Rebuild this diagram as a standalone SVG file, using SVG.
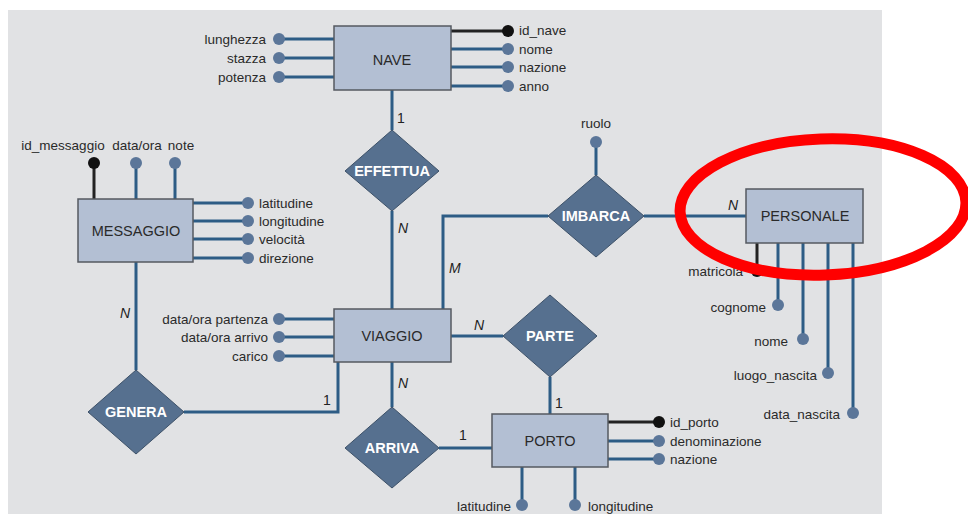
<svg xmlns="http://www.w3.org/2000/svg" width="968" height="514" viewBox="0 0 968 514">
<style>
.ent{fill:#b3bfd3;stroke:#555a60;stroke-width:1.5}
.rel{fill:#56708f;stroke:#3d5168;stroke-width:1}
.ln{stroke:#2d5c85;stroke-width:3;fill:none}
.kl{stroke:#222;stroke-width:3;fill:none}
.at{fill:#5b7699}
.ka{fill:#111}
.et{font-family:"Liberation Sans",Arial,sans-serif;font-size:14.5px;fill:#2a2a2a;text-anchor:middle}
.rt{font-family:"Liberation Sans",Arial,sans-serif;font-size:14.5px;font-weight:bold;fill:#fff;text-anchor:middle}
.lb{font-family:"Liberation Sans",Arial,sans-serif;font-size:13.5px;fill:#2a2a2a}
.r{text-anchor:end}
.m{text-anchor:middle}
.card{font-family:"Liberation Sans",Arial,sans-serif;font-size:14px;fill:#222}
.it{font-style:italic}
</style>
<rect x="8" y="10" width="874" height="504" fill="#e1e2e4"/>
<g id="connectors">
<path class="ln" d="M392 90V130M392 211V309M443 309V216H548M451 336H503M392 362V407M439 448H492M550 377V414M136 262V370M184 412H338V362M644 216H746M596 175V142"/>
</g>
<g id="NAVE">
<path class="ln" d="M279 39H334M279 58H334M279 77H334M451 49H508M451 67H508M451 86H508"/>
<path class="kl" d="M451 31H508"/>
<rect class="ent" x="334" y="26" width="117" height="64"/>
<text class="et" x="392" y="65">NAVE</text>
<circle class="at" cx="279" cy="39" r="6"/><circle class="at" cx="279" cy="58" r="6"/><circle class="at" cx="279" cy="77" r="6"/>
<circle class="ka" cx="508" cy="31" r="6"/><circle class="at" cx="508" cy="49" r="6"/><circle class="at" cx="508" cy="67" r="6"/><circle class="at" cx="508" cy="86" r="6"/>
<text class="lb r" x="266" y="44">lunghezza</text>
<text class="lb r" x="266" y="63">stazza</text>
<text class="lb r" x="266" y="82">potenza</text>
<text class="lb" x="519" y="35">id_nave</text>
<text class="lb" x="519" y="54">nome</text>
<text class="lb" x="519" y="72">nazione</text>
<text class="lb" x="519" y="91">anno</text>
</g>
<g id="MESSAGGIO">
<path class="kl" d="M94 163V199"/>
<path class="ln" d="M136 163V199M175 163V199M193 203H248M193 221H248M193 239H248M193 258H248"/>
<rect class="ent" x="78" y="199" width="115" height="63"/>
<text class="et" x="136" y="236">MESSAGGIO</text>
<circle class="ka" cx="94" cy="163" r="6"/><circle class="at" cx="136" cy="163" r="6"/><circle class="at" cx="175" cy="163" r="6"/>
<circle class="at" cx="248" cy="203" r="6"/><circle class="at" cx="248" cy="221" r="6"/><circle class="at" cx="248" cy="239" r="6"/><circle class="at" cx="248" cy="258" r="6"/>
<text class="lb m" x="63" y="150">id_messaggio</text>
<text class="lb m" x="137" y="150">data/ora</text>
<text class="lb m" x="181" y="150">note</text>
<text class="lb" x="259" y="208">latitudine</text>
<text class="lb" x="259" y="226">longitudine</text>
<text class="lb" x="259" y="244">velocità</text>
<text class="lb" x="259" y="263">direzione</text>
</g>
<g id="VIAGGIO">
<path class="ln" d="M279 319H334M279 337H334M279 356H334"/>
<rect class="ent" x="334" y="309" width="117" height="53"/>
<text class="et" x="392" y="341">VIAGGIO</text>
<circle class="at" cx="279" cy="319" r="6"/><circle class="at" cx="279" cy="337" r="6"/><circle class="at" cx="279" cy="356" r="6"/>
<text class="lb r" x="268" y="324">data/ora partenza</text>
<text class="lb r" x="268" y="342">data/ora arrivo</text>
<text class="lb r" x="268" y="361">carico</text>
</g>
<g id="PORTO">
<path class="kl" d="M608 422H659"/>
<path class="ln" d="M608 441H659M608 459H659M522 467V505M575 467V505"/>
<rect class="ent" x="492" y="414" width="116" height="53"/>
<text class="et" x="550" y="446">PORTO</text>
<circle class="ka" cx="659" cy="422" r="6"/><circle class="at" cx="659" cy="441" r="6"/><circle class="at" cx="659" cy="459" r="6"/>
<circle class="at" cx="522" cy="505" r="6"/><circle class="at" cx="575" cy="505" r="6"/>
<text class="lb" x="670" y="427">id_porto</text>
<text class="lb" x="670" y="446">denominazione</text>
<text class="lb" x="670" y="464">nazione</text>
<text class="lb r" x="511" y="511">latitudine</text>
<text class="lb" x="588" y="511">longitudine</text>
</g>
<g id="PERSONALE">
<path class="kl" d="M757 243V271"/>
<path class="ln" d="M778 243V305M803 243V339M828 243V373M853 243V413"/>
<rect class="ent" x="746" y="189" width="117" height="54"/>
<text class="et" x="805" y="221">PERSONALE</text>
<circle class="ka" cx="757" cy="271" r="6"/><circle class="at" cx="778" cy="305" r="6"/><circle class="at" cx="803" cy="339" r="6"/><circle class="at" cx="828" cy="373" r="6"/><circle class="at" cx="853" cy="413" r="6"/>
<text class="lb r" x="743" y="276">matricola</text>
<text class="lb r" x="766" y="312">cognome</text>
<text class="lb r" x="788" y="346">nome</text>
<text class="lb r" x="817" y="380">luogo_nascita</text>
<text class="lb r" x="840" y="419">data_nascita</text>
</g>
<g id="EFFETTUA">
<polygon class="rel" points="392,130 439,171 392,211 345,171"/>
<text class="rt" x="392" y="176">EFFETTUA</text>
</g>
<g id="IMBARCA">
<polygon class="rel" points="596,175 644,216 596,257 548,216"/>
<text class="rt" x="596" y="221">IMBARCA</text>
<circle class="at" cx="596" cy="142" r="6"/>
<text class="lb m" x="596" y="128">ruolo</text>
</g>
<g id="PARTE">
<polygon class="rel" points="550,295 597,336 550,377 503,336"/>
<text class="rt" x="550" y="341">PARTE</text>
</g>
<g id="ARRIVA">
<polygon class="rel" points="392,407 439,448 392,488 345,448"/>
<text class="rt" x="392" y="453">ARRIVA</text>
</g>
<g id="GENERA">
<polygon class="rel" points="136,370 184,412 136,454 88,412"/>
<text class="rt" x="136" y="417">GENERA</text>
</g>
<g id="cardinalities">
<text class="card" x="397" y="123">1</text>
<text class="card it" x="398" y="233">N</text>
<text class="card it" x="449" y="273">M</text>
<text class="card it" x="120" y="318">N</text>
<text class="card" x="323" y="405">1</text>
<text class="card it" x="398" y="388">N</text>
<text class="card it" x="474" y="330">N</text>
<text class="card" x="555" y="408">1</text>
<text class="card" x="459" y="440">1</text>
<text class="card it" x="728" y="210">N</text>
</g>
<ellipse cx="823" cy="207" rx="143" ry="68" transform="rotate(-2 823 207)" fill="none" stroke="#f00" stroke-width="11"/>
</svg>
